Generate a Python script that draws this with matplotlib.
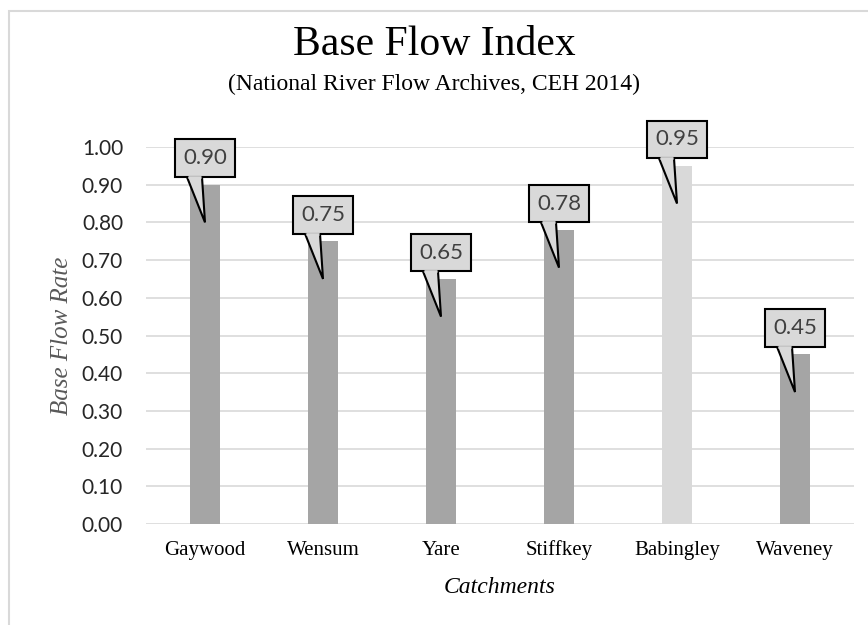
import matplotlib.pyplot as plt
from matplotlib.patches import Polygon, Rectangle

# catchments and their base flow index
catchments = ["Gaywood", "Wensum", "Yare", "Stiffkey", "Babingley", "Waveney"]
bfi = [0.90, 0.75, 0.65, 0.78, 0.95, 0.45]
bar_colours = ["#a5a5a5", "#a5a5a5", "#a5a5a5", "#a5a5a5", "#d9d9d9", "#a5a5a5"]
y_ticks = [0.0, 0.1, 0.2, 0.3, 0.4, 0.5, 0.6, 0.7, 0.8, 0.9, 1.0]

serif = "Liberation Serif"
sans = "Lato"

fig = plt.figure(figsize=(8.68, 6.25), dpi=100)
ax = fig.add_axes([146 / 868, 1 - 524 / 625, 708 / 868, 377 / 625])

x = range(len(catchments))
ax.bar(x, bfi, width=0.25, color=bar_colours, zorder=2)

ax.set_xlim(-0.5, len(catchments) - 0.5)
ax.set_ylim(0, 1.0)
ax.set_yticks(y_ticks)
ax.set_yticklabels([f"{v:.2f}" for v in y_ticks], fontfamily=sans, fontsize=15, color="#262626")
ax.set_xticks(list(x))
ax.set_xticklabels(catchments, fontfamily=serif, fontsize=15, color="#000000")
for lab in ax.get_xticklabels():
    lab.set_va("baseline")
ax.tick_params(axis="y", length=0, pad=16.5)
ax.tick_params(axis="x", length=0, pad=22)
ax.grid(axis="y", color="#d9d9d9", linewidth=1.2, zorder=0)
for s in ax.spines.values():
    s.set_visible(False)

ax.set_ylabel("Base Flow Rate", fontfamily=serif, fontstyle="italic", fontsize=18,
              color="#595959", va="baseline")
ax.yaxis.set_label_coords(-78 / 708, 0.5)
ax.set_xlabel("Catchments", fontfamily=serif, fontstyle="italic", fontsize=17,
              color="#000000", va="baseline")
ax.xaxis.set_label_coords(0.5, -69 / 377)

# callout boxes with a pointer down onto each bar
hw = 30 / 118
for i, v in enumerate(bfi):
    box = Rectangle((i - hw, v + 0.02), 2 * hw, 0.10, facecolor="#d9d9d9",
                    edgecolor="black", linewidth=1.5, zorder=5, clip_on=False)
    ax.add_patch(box)
    tail = Polygon([(i - 18 / 118, v + 0.02), (i, v - 0.10), (i - 3 / 118, v + 0.02)],
                   closed=False, facecolor="#d9d9d9", edgecolor="black",
                   linewidth=1.5, zorder=6, clip_on=False)
    ax.add_patch(tail)
    # cover the box edge where the pointer joins
    ax.plot([i - 17 / 118, i - 4 / 118], [v + 0.02, v + 0.02], color="#d9d9d9",
            linewidth=2, zorder=7, clip_on=False, solid_capstyle="butt")
    ax.text(i, v + 0.07, f"{v:.2f}", ha="center", va="center", fontfamily=sans,
            fontsize=16, color="#404040", zorder=8)

fig.text(0.5, 1 - 55 / 625, "Base Flow Index", ha="center", va="baseline",
         fontfamily=serif, fontsize=30, color="black")
fig.text(0.5, 1 - 90 / 625, "(National River Flow Archives, CEH 2014)", ha="center",
         va="baseline", fontfamily=serif, fontsize=17, color="black")

# outer chart border
fig.patches.append(Rectangle((8.5 / 868, -0.1), 1.2, 1 - 11.5 / 625 + 0.1,
                             transform=fig.transFigure, fill=False,
                             edgecolor="#d9d9d9", linewidth=1.5))

fig.savefig("out.png", dpi=100)
